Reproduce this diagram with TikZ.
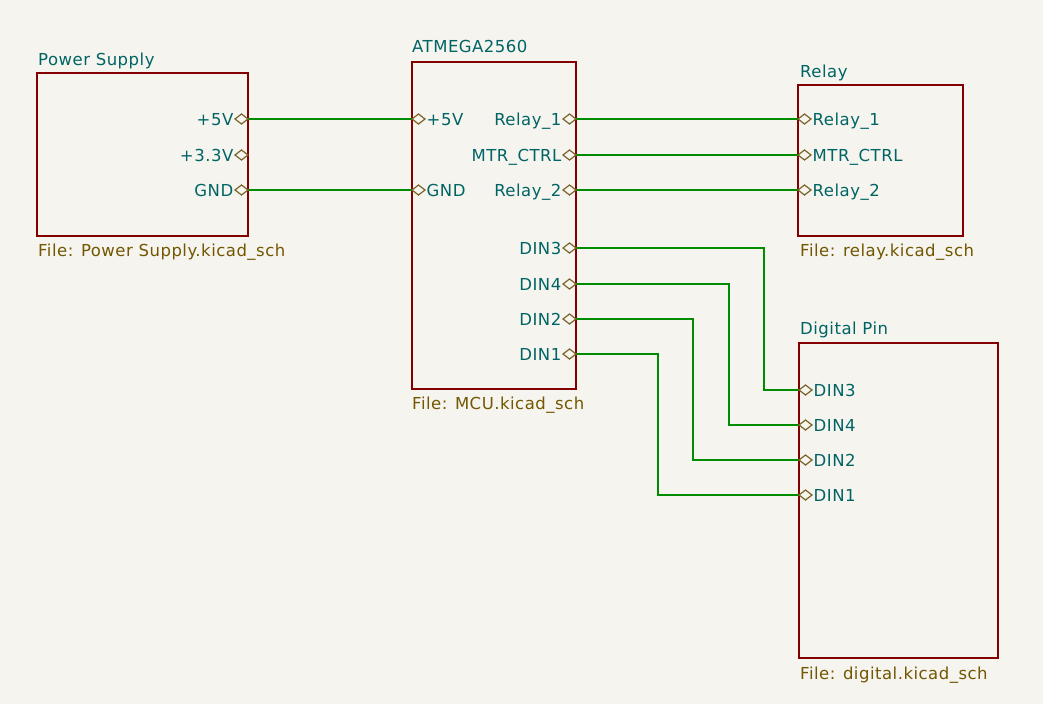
\documentclass[tikz,border=0pt]{standalone}
\usepackage{fontspec}
\newfontfamily\kfont[LetterSpace=3]{DejaVu Sans}
\definecolor{kbg}{HTML}{F5F4EF}
\definecolor{kborder}{HTML}{840000}
\definecolor{kwire}{HTML}{008C00}
\definecolor{kteal}{HTML}{006464}
\definecolor{kfile}{HTML}{725600}
\definecolor{kpin}{HTML}{7A6328}
\tikzset{
  sheetbox/.style={draw=kborder, line width=1.3pt, inner sep=0pt, outer sep=0pt, anchor=north west},
  pinmark/.style={rectangle, inner sep=0pt, outer sep=0pt, minimum width=13pt, minimum height=10pt},
  pinline/.style={draw=kpin, line width=1.2pt, line join=miter},
  wire/.style={draw=kwire, line width=1.4pt},
  ktext/.style={font=\kfont\fontsize{16.5pt}{19pt}\selectfont, inner sep=0pt},
  pintxtL/.style={ktext, text=kteal, anchor=base east, yshift=-6pt, xshift=-1.5pt},
  pintxtR/.style={ktext, text=kteal, anchor=base west, yshift=-6pt, xshift=1.5pt},
  sheettitle/.style={ktext, text=kteal, anchor=base west},
  sheetfile/.style={ktext, text=kfile, anchor=base west},
}
\begin{document}
\begin{tikzpicture}[x=1pt,y=-1pt]
\fill[kbg] (0,0) rectangle (1043,704);
\useasboundingbox (0,0) rectangle (1043,704);

% sheets
\node[sheetbox, minimum width=211pt, minimum height=163pt] (ps) at (37,73) {};
\node[sheetbox, minimum width=164pt, minimum height=327pt] (mcu) at (412,62) {};
\node[sheetbox, minimum width=165pt, minimum height=151pt] (rel) at (798,85) {};
\node[sheetbox, minimum width=199pt, minimum height=315pt] (dig) at (799,343) {};

% titles and files
\node[sheettitle] (pst) at (38,65) {Power Supply};
\node[sheetfile] (psf) at (38,256) {File: Power Supply.kicad\_sch};
\node[sheettitle] (mcut) at (412,52) {ATMEGA2560};
\node[sheetfile] (mcuf) at (412,409) {File: MCU.kicad\_sch};
\node[sheettitle] (relt) at (800,77) {Relay};
\node[sheetfile] (relf) at (800,256) {File: relay.kicad\_sch};
\node[sheettitle] (digt) at (800,334) {Digital Pin};
\node[sheetfile] (digf) at (800,679) {File: digital.kicad\_sch};

% power supply pins
\node[pinmark, anchor=east] (ps5) at (248,119) {};
\node[pinmark, anchor=east] (ps33) at (248,155) {};
\node[pinmark, anchor=east] (psg) at (248,190) {};
\node[pintxtL] at (ps5.west) {+5V};
\node[pintxtL] at (ps33.west) {+3.3V};
\node[pintxtL] at (psg.west) {GND};

% mcu left pins
\node[pinmark, anchor=west] (m5) at (412,119) {};
\node[pinmark, anchor=west] (mg) at (412,190) {};
\node[pintxtR] at (m5.east) {+5V};
\node[pintxtR] at (mg.east) {GND};

% mcu right pins
\node[pinmark, anchor=east] (mr1) at (576,119) {};
\node[pinmark, anchor=east] (mmc) at (576,155) {};
\node[pinmark, anchor=east] (mr2) at (576,190) {};
\node[pinmark, anchor=east] (md3) at (576,248) {};
\node[pinmark, anchor=east] (md4) at (576,284) {};
\node[pinmark, anchor=east] (md2) at (576,319) {};
\node[pinmark, anchor=east] (md1) at (576,354) {};
\node[pintxtL] at (mr1.west) {Relay\_1};
\node[pintxtL] at (mmc.west) {MTR\_CTRL};
\node[pintxtL] at (mr2.west) {Relay\_2};
\node[pintxtL] at (md3.west) {DIN3};
\node[pintxtL] at (md4.west) {DIN4};
\node[pintxtL] at (md2.west) {DIN2};
\node[pintxtL] at (md1.west) {DIN1};

% relay pins
\node[pinmark, anchor=west] (r1) at (798,119) {};
\node[pinmark, anchor=west] (rmc) at (798,155) {};
\node[pinmark, anchor=west] (r2) at (798,190) {};
\node[pintxtR] at (r1.east) {Relay\_1};
\node[pintxtR] at (rmc.east) {MTR\_CTRL};
\node[pintxtR] at (r2.east) {Relay\_2};

% digital pins
\node[pinmark, anchor=west] (d3) at (799,390) {};
\node[pinmark, anchor=west] (d4) at (799,425) {};
\node[pinmark, anchor=west] (d2) at (799,460) {};
\node[pinmark, anchor=west] (d1) at (799,495) {};
\node[pintxtR] at (d3.east) {DIN3};
\node[pintxtR] at (d4.east) {DIN4};
\node[pintxtR] at (d2.east) {DIN2};
\node[pintxtR] at (d1.east) {DIN1};

% wires
\draw[wire] (ps5.east) -- (m5.west);
\draw[wire] (psg.east) -- (mg.west);
\draw[wire] (mr1.east) -- (r1.west);
\draw[wire] (mmc.east) -- (rmc.west);
\draw[wire] (mr2.east) -- (r2.west);

\coordinate (c3) at (764,0);
\coordinate (c4) at (729,0);
\coordinate (c2) at (693,0);
\coordinate (c1) at (658,0);
\draw[wire] (md3.east) -- (md3.east -| c3) -- (c3 |- d3.west) -- (d3.west);
\draw[wire] (md4.east) -- (md4.east -| c4) -- (c4 |- d4.west) -- (d4.west);
\draw[wire] (md2.east) -- (md2.east -| c2) -- (c2 |- d2.west) -- (d2.west);
\draw[wire] (md1.east) -- (md1.east -| c1) -- (c1 |- d1.west) -- (d1.west);

% pin diamonds
\foreach \p in {ps5,ps33,psg,m5,mg,mr1,mmc,mr2,md3,md4,md2,md1,r1,rmc,r2,d3,d4,d2,d1}
  \draw[pinline] (\p.west) -- (\p.north) -- (\p.east) -- (\p.south) -- cycle;
\end{tikzpicture}
\end{document}
